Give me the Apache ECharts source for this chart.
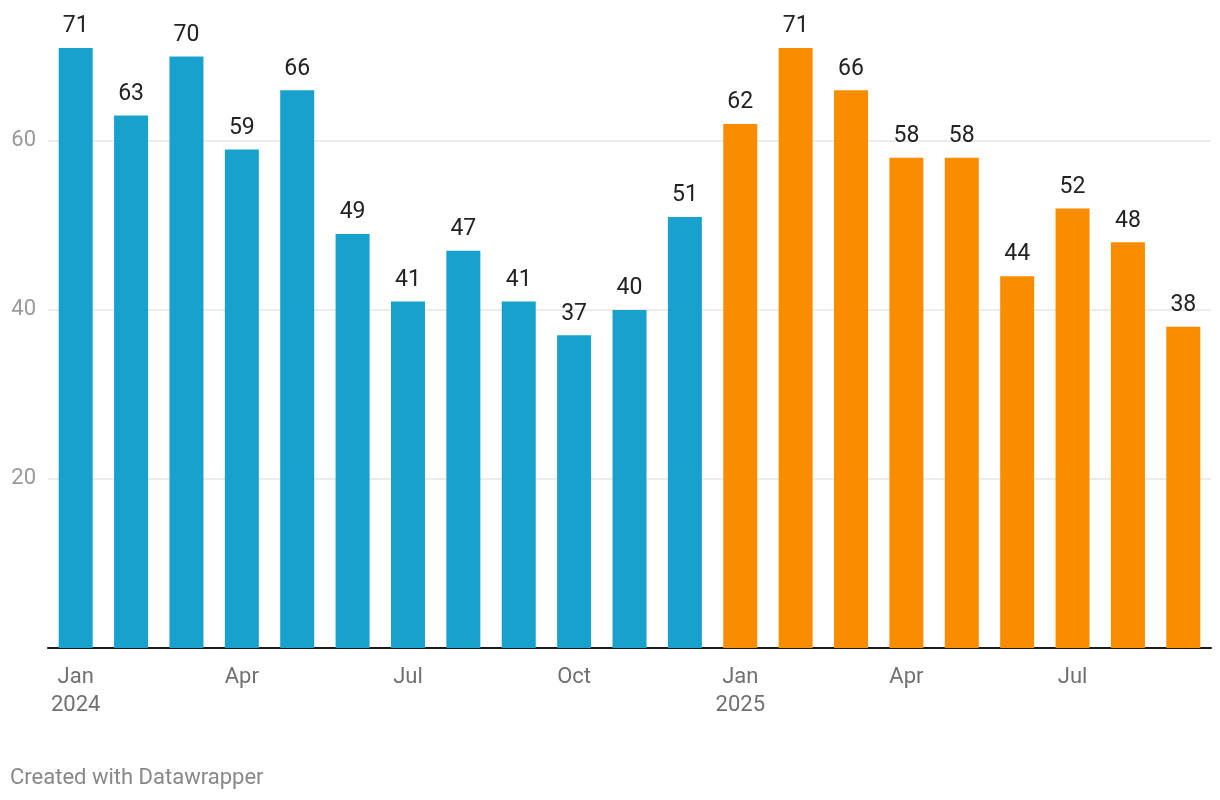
<!DOCTYPE html>
<html>
<head>
<meta charset="utf-8">
<script src="https://cdn.jsdelivr.net/npm/echarts@6/dist/echarts.min.js"></script>
<style>
html,body{margin:0;padding:0;background:#fff;}
#chart{width:1220px;height:800px;}
</style>
</head>
<body>
<div id="chart"></div>
<script>
var categories = ['Jan\n2024','Feb','Mar','Apr','May','Jun','Jul','Aug','Sep','Oct','Nov','Dec',
                  'Jan\n2025','Feb','Mar','Apr','May','Jun','Jul','Aug','Sep'];
var values2024 = [71,63,70,59,66,49,41,47,41,37,40,51];
var values2025 = [62,71,66,58,58,44,52,48,38];
var yTicks = [20,40,60];
var color2024 = '#18a1cd';
var color2025 = '#fa8c00';

var data = [];
values2024.forEach(function(v){ data.push({value:v, itemStyle:{color:color2024}}); });
values2025.forEach(function(v){ data.push({value:v, itemStyle:{color:color2025}}); });

var chart = echarts.init(document.getElementById('chart'));
chart.setOption({
  animation:false,
  textStyle:{fontFamily:'Roboto'},
  grid:{left:48,right:9,top:48,bottom:152,containLabel:false},
  xAxis:{
    type:'category',
    data:categories,
    axisLine:{show:true,lineStyle:{color:'#1a1a1a',width:2}},
    axisTick:{show:false},
    axisLabel:{interval:2,color:'#707070',fontSize:22,lineHeight:28,margin:15,fontFamily:'Roboto'}
  },
  yAxis:{
    type:'value',
    min:0,max:71,interval:20,
    axisLine:{show:false},
    axisTick:{show:false},
    splitLine:{show:true,lineStyle:{color:['rgba(0,0,0,0)','#e6e6e6','#e6e6e6','#e6e6e6','rgba(0,0,0,0)'],width:1.5}},
    axisLabel:{
      color:'#9a9a9a',fontSize:22,margin:12,fontFamily:'Roboto',
      formatter:function(v){ return yTicks.indexOf(v) >= 0 ? String(v) : ''; }
    }
  },
  series:[{
    type:'bar',
    data:data,
    barWidth:34,
    label:{show:true,position:'top',distance:10,color:'#222',fontSize:23,fontFamily:'Roboto'}
  }],
  graphic:[{
    type:'text',left:10,top:767,
    style:{text:'Created with Datawrapper',fill:'#888',fontSize:22,fontFamily:'Roboto'}
  }]
});
</script>
</body>
</html>
